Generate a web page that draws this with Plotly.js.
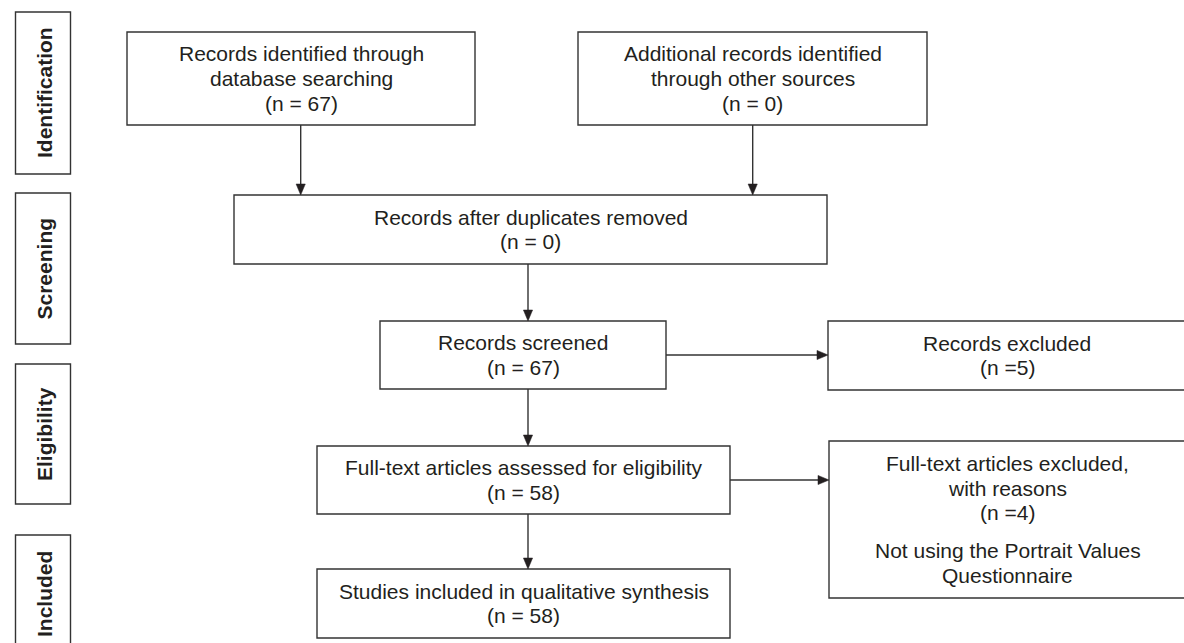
<!DOCTYPE html>
<html><head><meta charset="utf-8">
<script src="https://cdn.plot.ly/plotly-3.0.1.min.js"></script>
<style>html,body{margin:0;padding:0;background:#fff;}#chart{width:1184px;height:643px;}</style>
</head><body><div id="chart"></div>
<script>
// ---- content ----
const stageLabels = ["Identification", "Screening", "Eligibility", "Included"];
const boxTitles = [
  ["Records identified through", "database searching"],
  ["Additional records identified", "through other sources"],
  ["Records after duplicates removed"],
  ["Records screened"],
  ["Records excluded"],
  ["Full-text articles assessed for eligibility"],
  ["Full-text articles excluded,", "with reasons"],
  ["Studies included in qualitative synthesis"]
];
const boxCounts = [67, 0, 0, 67, 5, 58, 4, 58];
const countPrefixes = ["(n = ", "(n = ", "(n = ", "(n = ", "(n =", "(n = ", "(n =", "(n = "];
const exclusionReasons = [[], [], [], [], [], [], ["Not using the Portrait Values", "Questionnaire"], []];

// ---- geometry (pixels, y downward) ----
const boxGeom = [
  {x0: 127, x1: 475, y0: 32, y1: 125},
  {x0: 578, x1: 927, y0: 32, y1: 125},
  {x0: 234, x1: 827, y0: 195, y1: 264},
  {x0: 380, x1: 666, y0: 321, y1: 389},
  {x0: 828, x1: 1186, y0: 321, y1: 390},
  {x0: 317, x1: 730, y0: 446, y1: 514},
  {x0: 829, x1: 1186, y0: 441, y1: 598},
  {x0: 317, x1: 730, y0: 569, y1: 638}
];
const stageGeom = [
  {y0: 12, y1: 174}, {y0: 193, y1: 344}, {y0: 364, y1: 504}, {y0: 535, y1: 660}
];
const arrows = [
  {x0: 300.7, y0: 125, x1: 300.7, y1: 195},
  {x0: 752.7, y0: 125, x1: 752.7, y1: 195},
  {x0: 528, y0: 264, x1: 528, y1: 321},
  {x0: 666, y0: 355, x1: 828, y1: 355},
  {x0: 528, y0: 389, x1: 528, y1: 446},
  {x0: 730, y0: 480, x1: 829, y1: 480},
  {x0: 528, y0: 514, x1: 528, y1: 569}
];

const LINE = '#333333', TXT = '#231f20', FONT = 'Liberation Sans, Arial, sans-serif';
const shapes = [], annotations = [];

stageGeom.forEach((g, i) => {
  shapes.push({type: 'rect', xref: 'x', yref: 'y', x0: 15.5, x1: 70.5, y0: g.y0, y1: g.y1,
    line: {color: LINE, width: 1.4}, fillcolor: 'rgba(0,0,0,0)'});
  const cy = Math.min((g.y0 + g.y1) / 2, i === 3 ? 594 : 1e9);
  annotations.push({x: 44, y: cy, xref: 'x', yref: 'y', text: '<b>' + stageLabels[i] + '</b>',
    textangle: -90, showarrow: false, xanchor: 'center', yanchor: 'middle',
    font: {family: FONT, size: 21, color: TXT}});
});

boxGeom.forEach((g, i) => {
  shapes.push({type: 'rect', xref: 'x', yref: 'y', x0: g.x0, x1: g.x1, y0: g.y0, y1: g.y1,
    line: {color: LINE, width: 1.4}, fillcolor: 'rgba(0,0,0,0)'});
  const lines = boxTitles[i].concat([countPrefixes[i] + boxCounts[i] + ')']);
  const extra = exclusionReasons[i];
  const step = 24.6, gap = 37.7;
  const offsets = [];
  let pos = 0;
  lines.forEach(() => { offsets.push(pos); pos += step; });
  pos = pos - step + gap;
  extra.forEach(() => { offsets.push(pos); pos += step; });
  const all = lines.concat(extra);
  const total = offsets[offsets.length - 1];
  const cx = (g.x0 + Math.min(g.x1, 1186)) / 2;
  const cy = (g.y0 + g.y1) / 2;
  all.forEach((t, k) => {
    annotations.push({x: cx, y: cy - total / 2 + offsets[k], xref: 'x', yref: 'y', text: t,
      showarrow: false, xanchor: 'center', yanchor: 'middle',
      font: {family: FONT, size: 21, color: TXT}});
  });
});

arrows.forEach(a => {
  const L = 11, W = 4.6;
  if (a.x0 === a.x1) {
    shapes.push({type: 'line', xref: 'x', yref: 'y', x0: a.x0, y0: a.y0, x1: a.x1, y1: a.y1 - L,
      line: {color: LINE, width: 1.4}});
    shapes.push({type: 'path', xref: 'x', yref: 'y',
      path: `M ${a.x1 - W} ${a.y1 - L} L ${a.x1 + W} ${a.y1 - L} L ${a.x1} ${a.y1} Z`,
      fillcolor: '#231f20', line: {color: '#231f20', width: 0.5}});
  } else {
    shapes.push({type: 'line', xref: 'x', yref: 'y', x0: a.x0, y0: a.y0, x1: a.x1 - L, y1: a.y1,
      line: {color: LINE, width: 1.4}});
    shapes.push({type: 'path', xref: 'x', yref: 'y',
      path: `M ${a.x1 - L} ${a.y1 - W} L ${a.x1 - L} ${a.y1 + W} L ${a.x1} ${a.y1} Z`,
      fillcolor: '#231f20', line: {color: '#231f20', width: 0.5}});
  }
});

const layout = {
  width: 1184, height: 643, margin: {l: 0, r: 0, t: 0, b: 0},
  paper_bgcolor: '#ffffff', plot_bgcolor: '#ffffff',
  xaxis: {range: [0, 1184], visible: false, fixedrange: true},
  yaxis: {range: [643, 0], visible: false, fixedrange: true},
  showlegend: false, shapes: shapes, annotations: annotations
};
Plotly.newPlot('chart', [], layout, {staticPlot: true, displayModeBar: false});
</script></body></html>
